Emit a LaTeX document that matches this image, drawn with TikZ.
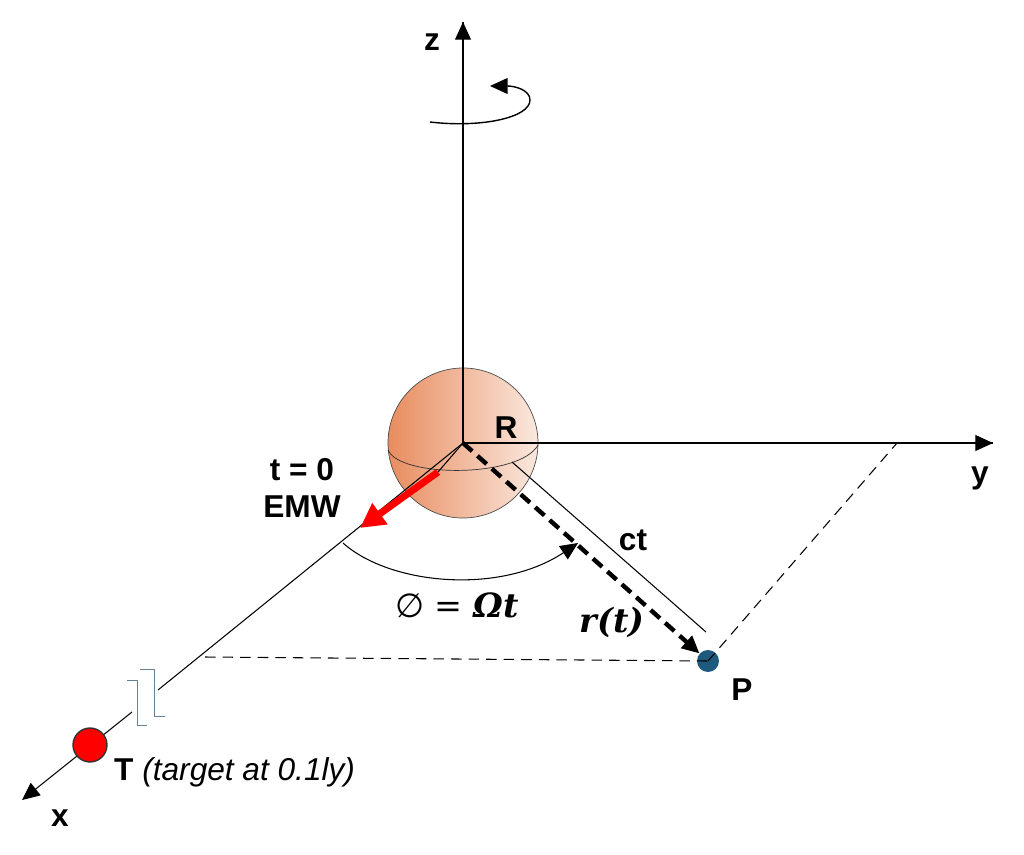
\documentclass[tikz,border=0pt]{standalone}
\usepackage{fontspec}
\setmainfont{Liberation Sans}
\newfontfamily\mathlike{DejaVu Serif}
\newfontfamily\symfont{DejaVu Sans}
\usetikzlibrary{arrows.meta}
\definecolor{sphereL}{RGB}{232,140,95}
\definecolor{sphereR}{RGB}{250,232,222}
\definecolor{pointP}{RGB}{30,90,125}
\definecolor{breakC}{RGB}{100,130,150}
\begin{document}
\begin{tikzpicture}[x=0.02cm,y=-0.02cm,>={Triangle[length=10pt,width=9pt]},
    axis/.style={semithick,->},
    lbl/.style={font=\bfseries\fontsize{18}{21}\selectfont},
    guide/.style={dashed,semithick,dash pattern=on 6pt off 4pt}]
    \useasboundingbox (0,0) rectangle (1024,855);
    % sphere
    \shade[left color=sphereL,right color=sphereR,draw=black!70] (463,443) circle (75);
    \draw[black!80] (388,450) .. controls (400,478) and (520,478) .. (538,445);
    \coordinate (O) at (463,443);
    \coordinate (eq) at (438,472);
    \draw[semithick] (O) -- (eq);
    % axes
    \coordinate (zend) at (463,22);
    \coordinate (yend) at (993,443);
    \coordinate (xend) at (22,800);
    \coordinate (xbreak) at (158,690);
    \coordinate (xafter) at (132,712);
    \draw[semithick] (O) -- (zend);
    \draw[axis] (O |- 40,40) -- (zend);
    \draw[semithick] (O) -- (yend);
    \draw[axis] (980,443) -- (yend);
    \draw[semithick] (O) -- (xbreak);
    \draw[axis] (xafter) -- (xend);
    \node[lbl] (zl) at (432,42) {z};
    \node[lbl] (yl) at (980,478) {y};
    \node[lbl] (xl) at (60,818) {x};
    % break marks
    \draw[breakC] (127,680) -- (137,680) -- (137,725) -- (147,725);
    \draw[breakC] (140,669) -- (154,669) -- (154,716) -- (165,716);
    % rotation
    \draw[thick,->] (430,122) .. controls (480,128) and (530,118) .. (530,100)
        .. controls (530,90) and (515,86) .. (490,86);
    % points
    \node[circle,fill=pointP,minimum size=22pt*0.02/0.0352,inner sep=0pt] (P) at (708,661) {};
    \node[circle,fill=red,draw=black!80,thick,minimum size=34pt*0.02/0.0352,inner sep=0pt] (T) at (90,745) {};
    \node[lbl] (Pl) at (742,690) {P};
    \node[anchor=west,font=\fontsize{18}{21}\selectfont] (Tl) at (108,772) {\textbf{T} \textit{(target at 0.1ly)}};
    % guides
    \coordinate (xg) at (205,657);
    \coordinate (yg) at (897,443);
    \draw[guide] (xg) -- (P.center);
    \draw[guide] (P.center) -- (yg);
    % ct and r(t)
    \coordinate (ct0) at (512,462);
    \coordinate (ct1) at (706,632);
    \draw[semithick] (ct0) -- (ct1);
    \draw[line width=2.5pt,dash pattern=on 7pt off 4pt,->] (O) -- (P);
    \node[lbl] (ctl) at (633,540) {ct};
    \node[font=\mathlike\itshape\bfseries\fontsize{19}{21}\selectfont] (rl) at (612,622) {r(t)};
    % EMW arrow
    \coordinate (emw1) at (360,528);
    \draw[red,line width=4pt,-{Triangle[length=14pt,width=14pt]}] (eq) -- (emw1);
    \node[lbl,align=center] (emwl) at (302,488) {t = 0\\EMW};
    \node[lbl] (Rl) at (506,428) {R};
    % angle
    \coordinate (a0) at (343,543);
    \coordinate (a1) at (578,543);
    \draw[semithick,->] (a0) .. controls (390,585) and (500,595) .. (a1);
    \node[font=\mathlike\fontsize{19}{21}\selectfont] (phil) at (457,605) {{\symfont ∅} = \textbf{\textit{Ωt}}};
\end{tikzpicture}
\end{document}
